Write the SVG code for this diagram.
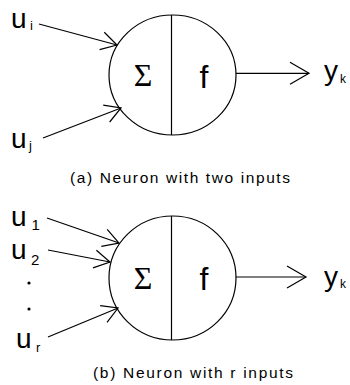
<svg xmlns="http://www.w3.org/2000/svg" width="350" height="385" viewBox="0 0 350 385">
<style>
.s{fill:none;stroke:#000;stroke-width:1.2}
.t{font-family:"Liberation Sans",Arial,sans-serif;fill:#000}
.sig{font-family:"Liberation Serif","Times New Roman",serif;fill:#000;font-size:32px}
.big{font-size:28px}
.sub{font-size:13px}
.cap{font-size:15.5px}
</style>
<defs>
<marker id="ai" markerUnits="userSpaceOnUse" viewBox="-20 -12 22 24" refX="0" refY="0" markerWidth="22" markerHeight="24" orient="auto" overflow="visible">
<path d="M-15.6,-9 L0,0 L-15.6,9" fill="none" stroke="#000" stroke-width="1.2"/>
</marker>
<marker id="ao" markerUnits="userSpaceOnUse" viewBox="-22 -13 24 26" refX="0" refY="0" markerWidth="24" markerHeight="26" orient="auto" overflow="visible">
<path d="M-19,-11 L0,0 L-19,11" fill="none" stroke="#000" stroke-width="1.2"/>
</marker>
</defs>
<rect width="350" height="385" fill="#fff"/>

<g id="neuron-a">
<ellipse class="s" cx="172.5" cy="75" rx="63.5" ry="60"/>
<line class="s" x1="171.5" y1="15" x2="171.5" y2="135"/>
<text class="sig" x="143" y="85.5" text-anchor="middle">Σ</text>
<text class="t" x="204" y="88" font-size="32" text-anchor="middle">f</text>
</g>
<g id="input-ui">
<text class="t big" x="11" y="27.5">u<tspan class="sub" x="30" y="30">i</tspan></text>
</g>
<g id="input-uj">
<text class="t big" x="11" y="148">u<tspan class="sub" x="29" y="150">j</tspan></text>
</g>
<g id="output-a">
<text class="t" x="324" y="80" font-size="28">y<tspan font-size="12" x="340" y="83">k</tspan></text>
</g>
<g id="caption-a">
<text class="t cap" x="70" y="183" textLength="220" lengthAdjust="spacing">(a) Neuron with two inputs</text>
</g>

<g id="neuron-b">
<ellipse class="s" cx="172.5" cy="278" rx="63.5" ry="62"/>
<line class="s" x1="171.5" y1="216" x2="171.5" y2="340"/>
<text class="sig" x="143" y="288.5" text-anchor="middle">Σ</text>
<text class="t" x="204" y="290" font-size="32" text-anchor="middle">f</text>
</g>
<g id="input-u1">
<text class="t big" x="11" y="226">u<tspan font-size="15" x="31.5" y="230">1</tspan></text>
</g>
<g id="input-u2">
<text class="t big" x="11" y="259">u<tspan font-size="15" x="31" y="265">2</tspan></text>
</g>
<g id="dots">
<circle cx="29" cy="283" r="1.6" fill="#000"/>
<circle cx="29" cy="309" r="1.6" fill="#000"/>
</g>
<g id="input-ur">
<text class="t big" x="16" y="348">u<tspan class="sub" x="36" y="352">r</tspan></text>
</g>
<g id="output-b">
<text class="t" x="324" y="286" font-size="28">y<tspan font-size="12" x="340" y="288">k</tspan></text>
</g>
<g id="caption-b">
<text class="t cap" x="93" y="378" textLength="200" lengthAdjust="spacing">(b) Neuron with r inputs</text>
</g>

<g id="connectors">
<line class="s" x1="39" y1="24" x2="117" y2="45" marker-end="url(#ai)"/>
<line class="s" x1="43" y1="138" x2="121" y2="108" marker-end="url(#ai)"/>
<line class="s" x1="236" y1="73.3" x2="309" y2="73.3" marker-end="url(#ao)"/>
<line class="s" x1="47" y1="218" x2="119" y2="243" marker-end="url(#ai)"/>
<line class="s" x1="48" y1="250" x2="110" y2="262" marker-end="url(#ai)"/>
<line class="s" x1="48" y1="337" x2="118" y2="308" marker-end="url(#ai)"/>
<line class="s" x1="236" y1="277" x2="306" y2="277" marker-end="url(#ao)"/>
</g>
</svg>
